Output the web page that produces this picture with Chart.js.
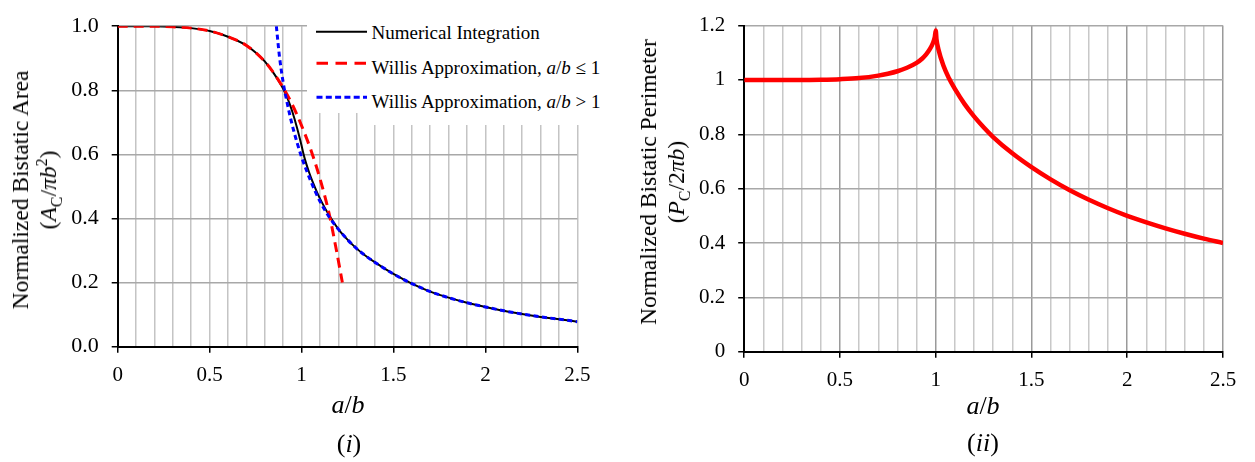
<!DOCTYPE html>
<html>
<head>
<meta charset="utf-8">
<script src="https://cdn.jsdelivr.net/npm/chart.js@4.4.1/dist/chart.umd.min.js"></script>
<style>
  body { margin: 0; background: #fff; }
  #wrap { position: relative; width: 1255px; height: 462px; overflow: hidden;
          font-family: "Liberation Serif", "Times New Roman", serif; color: #000; }
  canvas { position: absolute; top: 0; }
  .ytitle { position: absolute; transform: translate(-50%, -50%) rotate(-90deg);
            font-size: 23.5px; line-height: 28px; text-align: center; white-space: nowrap; }
  .xtitle { position: absolute; transform: translate(-50%, -50%);
            font-size: 26px; line-height: 1; white-space: nowrap; }
  sub, sup { font-size: 0.68em; line-height: 0; }
  .box { position: absolute; background: #fff; }
  .leg { position: absolute; font-size: 19px; line-height: 19px; white-space: nowrap; }
  .sample { position: absolute; }
</style>
</head>
<body>
<div id="wrap">
  <canvas id="areaChart" width="612" height="462" style="left:0"></canvas>
  <canvas id="perimChart" width="635" height="462" style="left:620px"></canvas>

  <!-- legend of chart (i) sits on white boxes over the grid -->
  <div class="box" style="left:370px;top:11px;width:242px;height:114px"></div>
  <div class="box" style="left:307px;top:15px;width:305px;height:98px"></div>
  <svg class="sample" style="left:316px;top:21px" width="52" height="22">
    <line x1="0" y1="10.7" x2="51" y2="10.7" stroke="#000" stroke-width="2"/>
  </svg>
  <svg class="sample" style="left:316px;top:53px" width="52" height="20">
    <line x1="0.5" y1="10.3" x2="51" y2="10.3" stroke="#f00" stroke-width="3" stroke-dasharray="11.5 7.5"/>
  </svg>
  <svg class="sample" style="left:316px;top:87px" width="52" height="20">
    <line x1="0.5" y1="10.3" x2="51" y2="10.3" stroke="#00f" stroke-width="3" stroke-dasharray="6 3.3"/>
  </svg>
  <div class="leg" style="left:371.5px;top:22.6px">Numerical Integration</div>
  <div class="leg" style="left:371.5px;top:57.6px">Willis Approximation, <i>a</i>/<i>b</i> ≤ 1</div>
  <div class="leg" style="left:371.5px;top:91.6px">Willis Approximation, <i>a</i>/<i>b</i> &gt; 1</div>

  <div class="ytitle" style="left:34px;top:190px">Normalized Bistatic Area<br>(<i>A</i><sub>C</sub>/<i>πb</i><sup>2</sup>)</div>
  <div class="xtitle" style="left:348px;top:405px"><i>a</i>/<i>b</i></div>
  <div class="xtitle" style="left:349px;top:444px">(<i>i</i>)</div>

  <div class="ytitle" style="left:662px;top:182px">Normalized Bistatic Perimeter<br>(<i>P</i><sub>C</sub>/2<i>πb</i>)</div>
  <div class="xtitle" style="left:983px;top:406px"><i>a</i>/<i>b</i></div>
  <div class="xtitle" style="left:983px;top:443px">(<i>ii</i>)</div>
</div>

<script>
// (i) normalized bistatic area, numerical integration
const ratioNum = [0, 0.1, 0.2, 0.3, 0.4, 0.5, 0.6, 0.7, 0.75, 0.8, 0.85, 0.9, 0.925, 0.95, 0.975, 1.0, 1.01, 1.025, 1.04, 1.06, 1.085, 1.11, 1.15, 1.2, 1.25, 1.3, 1.35, 1.4, 1.5, 1.6, 1.7, 1.8, 1.9, 2.0, 2.1, 2.2, 2.3, 2.4, 2.5];
const areaNum = [1.0, 1.0, 1.0, 0.998, 0.994, 0.985, 0.967, 0.94, 0.918, 0.89, 0.852, 0.805, 0.773, 0.733, 0.684, 0.628, 0.603, 0.572, 0.546, 0.515, 0.481, 0.451, 0.41, 0.367, 0.334, 0.306, 0.283, 0.263, 0.227, 0.197, 0.172, 0.153, 0.137, 0.124, 0.112, 0.102, 0.093, 0.086, 0.078];

// Willis approximation, a/b <= 1
const ratioLow = [0, 0.1, 0.2, 0.3, 0.4, 0.5, 0.6, 0.7, 0.8, 0.85, 0.9, 0.95, 1.0, 1.05, 1.1, 1.15, 1.19, 1.222];
const areaLow = [1.0, 1.0, 1.0, 0.998, 0.994, 0.985, 0.967, 0.94, 0.89, 0.853, 0.808, 0.755, 0.69, 0.615, 0.525, 0.415, 0.3, 0.2];

// Willis approximation, a/b > 1
const ratioHigh = [0.863, 0.88, 0.9, 0.925, 0.95, 0.975, 1.0, 1.025, 1.05, 1.075, 1.1, 1.15, 1.2, 1.25, 1.3, 1.35, 1.4, 1.5, 1.6, 1.7, 1.8, 1.9, 2.0, 2.1, 2.2, 2.3, 2.4, 2.5];
const areaHigh = [1.0, 0.905, 0.825, 0.752, 0.69, 0.638, 0.592, 0.553, 0.517, 0.484, 0.454, 0.405, 0.367, 0.334, 0.306, 0.283, 0.263, 0.227, 0.197, 0.172, 0.153, 0.137, 0.124, 0.112, 0.102, 0.093, 0.086, 0.078];

// (ii) normalized bistatic perimeter
const ratioPerim = [0, 0.1, 0.2, 0.3, 0.4, 0.5, 0.6, 0.7, 0.75, 0.8, 0.85, 0.9, 0.93, 0.95, 0.97, 0.985, 0.995, 1.0, 1.004, 1.014, 1.04, 1.07, 1.1, 1.15, 1.2, 1.25, 1.3, 1.4, 1.5, 1.6, 1.7, 1.8, 1.9, 2.0, 2.1, 2.2, 2.3, 2.4, 2.5];
const perimeter = [1.0, 1.0, 1.0, 1.0, 1.001, 1.003, 1.007, 1.016, 1.023, 1.032, 1.045, 1.063, 1.079, 1.094, 1.114, 1.135, 1.157, 1.182, 1.15, 1.113, 1.053, 1.005, 0.967, 0.912, 0.866, 0.826, 0.79, 0.73, 0.679, 0.634, 0.594, 0.559, 0.528, 0.5, 0.476, 0.454, 0.434, 0.416, 0.4];

// tick labels
const ratioTickLabels = ['0', '0.5', '1', '1.5', '2', '2.5'];
const areaTickLabels = ['0.0', '0.2', '0.4', '0.6', '0.8', '1.0'];
const perimTickLabels = ['0', '0.2', '0.4', '0.6', '0.8', '1', '1.2'];

const pts = (xs, ys) => xs.map((x, i) => ({ x: x, y: ys[i] }));
const serif = size => ({ family: 'Liberation Serif', size: size });
const isMajor = v => Math.abs(v * 2 - Math.round(v * 2)) < 1e-6;

function ratioAxis(minorColor, majorColor, fontSize) {
    return {
        type: 'linear', min: 0, max: 2.5,
        afterFit: s => { s.height = 40; },
        ticks: {
            stepSize: 0.1, autoSkip: false, maxRotation: 0, padding: 10, color: '#000', font: serif(fontSize),
            callback: v => isMajor(v) ? ratioTickLabels[Math.round(v * 2)] : ''
        },
        grid: {
            color: c => isMajor(c.tick.value) ? majorColor : minorColor,
            lineWidth: 1.5, tickLength: 6, tickWidth: 1.5,
            tickColor: c => isMajor(c.tick.value) ? '#000' : 'rgba(0,0,0,0)'
        },
        border: { color: '#000', width: 2 }
    };
}

function valueAxis(max, labels, width, fontSize) {
    return {
        type: 'linear', min: 0, max: max,
        afterFit: s => { s.width = width; },
        ticks: {
            stepSize: 0.2, padding: 13, color: '#000', font: serif(fontSize),
            callback: v => labels[Math.round(v * 5)]
        },
        grid: { color: '#a8a8a8', lineWidth: 1.5, tickLength: 6, tickWidth: 1.5, tickColor: '#000' },
        border: { color: '#000', width: 2 }
    };
}

const common = {
    responsive: false,
    animation: false,
    events: [],
    elements: { point: { radius: 0 }, line: { cubicInterpolationMode: 'monotone', fill: false, borderCapStyle: 'butt' } },
    plugins: { legend: { display: false }, tooltip: { enabled: false } }
};

new Chart(document.getElementById('areaChart'), {
    type: 'line',
    data: {
        datasets: [
            { label: 'Numerical Integration', data: pts(ratioNum, areaNum), borderColor: '#000', borderWidth: 2, order: 3 },
            { label: 'Willis Approximation, a/b ≤ 1', data: pts(ratioLow, areaLow), borderColor: '#ff0000', borderWidth: 3, borderDash: [10, 6], order: 2 },
            { label: 'Willis Approximation, a/b > 1', data: pts(ratioHigh, areaHigh), borderColor: '#0000ff', borderWidth: 3, borderDash: [5, 3.5], order: 1 }
        ]
    },
    options: Object.assign({}, common, {
        layout: { padding: { left: 0, top: 13.3, right: 34.7, bottom: 75.3 } },
        scales: {
            x: ratioAxis('#c4c4c4', '#c4c4c4', 21),
            y: valueAxis(1, areaTickLabels, 117.7, 22)
        }
    })
});

new Chart(document.getElementById('perimChart'), {
    type: 'line',
    data: {
        datasets: [
            { label: 'Perimeter', data: pts(ratioPerim, perimeter), borderColor: '#ff0000', borderWidth: 4.5 }
        ]
    },
    options: Object.assign({}, common, {
        layout: { padding: { left: 0, top: 24.7, right: 32, bottom: 70.3 } },
        scales: {
            x: ratioAxis('#c8c8c8', '#9a9a9a', 21),
            y: valueAxis(1.2, perimTickLabels, 124.2, 21)
        }
    })
});
</script>
</body>
</html>
